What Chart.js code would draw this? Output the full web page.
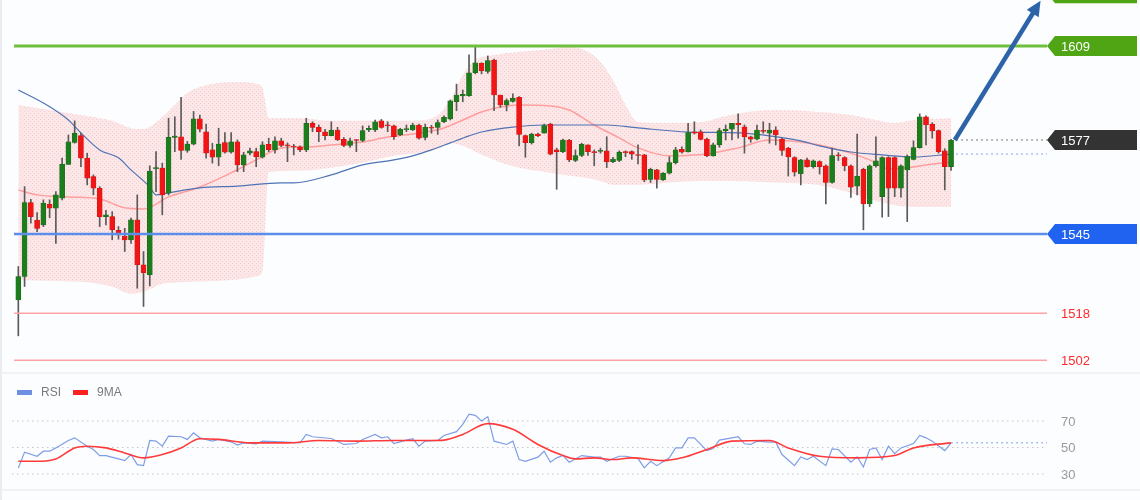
<!DOCTYPE html>
<html>
<head>
<meta charset="utf-8">
<title>Price chart</title>
<script src="https://cdn.jsdelivr.net/npm/chart.js@4.4.1/dist/chart.umd.min.js"></script>
<style>
  html, body { margin: 0; padding: 0; background: #fcfdfe; }
  #wrap { position: relative; width: 1140px; height: 500px; overflow: hidden; }
  canvas { position: absolute; left: 0; }
  #priceChart { top: 0; }
  #rsiChart { top: 375px; }
</style>
</head>
<body>
<div id="wrap">
  <canvas id="priceChart" width="1140" height="375"></canvas>
  <canvas id="rsiChart" width="1140" height="125"></canvas>
</div>
<script>
// =====================
// data
// =====================
const opens = [1522.5,1530.5,1555.7,1549.7,1548.1,1555.1,1553.8,1557.2,1568.7,1576.2,
1578.5,1570.8,1564.5,1560.6,1550.9,1550.9,1546.2,1544.3,1543.0,1549.8,
1534.5,1531.1,1567.2,1567.4,1558.9,1577.9,1578.1,1573.4,1575.6,1584.2,
1579.8,1573.6,1571.1,1576.1,1572.8,1576.4,1568.5,1572.5,1573.0,1571.1,
1575.5,1573.6,1576.7,1575.2,1574.8,1574.7,1573.6,1582.7,1581.3,1579.8,
1578.5,1580.4,1577.2,1575.1,1577.0,1576.8,1580.4,1580.4,1583.5,1582.1,
1581.8,1578.7,1580.5,1580.4,1582.1,1577.9,1581.3,1581.3,1583.2,1584.2,
1590.0,1592.0,1592.1,1599.9,1603.1,1600.3,1604.2,1592.3,1588.9,1590.1,
1591.5,1578.5,1576.1,1579.0,1579.3,1582.4,1573.6,1573.0,1577.0,1570.0,
1571.7,1575.3,1573.0,1573.1,1573.3,1569.6,1570.0,1573.0,1573.0,1571.9,
1571.9,1563.6,1566.8,1563.4,1565.7,1569.3,1573.8,1573.0,1579.8,1579.8,
1577.3,1571.6,1575.3,1580.2,1580.7,1582.7,1581.5,1578.1,1577.3,1580.2,
1579.3,1580.4,1577.3,1574.2,1571.0,1565.4,1570.2,1567.9,1569.6,1568.2,
1562.5,1571.9,1571.0,1568.2,1561.3,1567.0,1555.2,1568.2,1557.7,1571.0,
1571.0,1560.6,1566.8,1570.4,1574.4,1584.9,1582.4,1580.2,1573.3,1567.9];

const highs = [1533.9,1561.1,1556.8,1552.3,1556.6,1556.6,1559.4,1570.8,1578.7,1583.5,
1579.3,1572.5,1565.1,1561.1,1553.0,1552.6,1547.5,1546.9,1550.4,1558.3,
1539.0,1568.2,1573.0,1569.1,1584.4,1584.9,1591.5,1576.5,1586.7,1585.5,
1582.4,1575.9,1581.0,1579.5,1579.5,1577.0,1572.8,1574.2,1574.2,1576.4,
1577.6,1578.1,1577.6,1576.0,1575.5,1575.0,1584.4,1583.2,1582.1,1580.6,
1583.2,1581.3,1577.8,1577.6,1577.2,1581.8,1581.8,1583.8,1584.0,1583.2,
1582.1,1581.0,1582.1,1582.7,1582.4,1582.4,1582.0,1583.8,1585.2,1590.6,
1596.0,1594.0,1606.0,1608.8,1603.3,1605.6,1604.5,1592.3,1591.0,1592.7,
1591.8,1578.7,1579.3,1579.3,1582.4,1582.7,1574.2,1577.3,1577.2,1573.6,
1575.9,1575.3,1573.6,1574.2,1578.1,1571.1,1573.3,1573.3,1573.3,1575.3,
1572.1,1567.4,1567.0,1565.9,1571.3,1574.5,1574.7,1582.7,1583.2,1580.4,
1577.6,1575.9,1581.0,1582.1,1582.7,1585.9,1582.1,1578.3,1582.1,1583.2,
1582.7,1581.5,1577.6,1574.5,1571.3,1570.4,1570.8,1570.2,1569.9,1568.5,
1574.2,1572.7,1571.3,1568.5,1579.0,1567.4,1568.5,1578.1,1571.3,1571.3,
1571.3,1568.5,1571.9,1576.7,1585.9,1585.2,1582.9,1580.4,1574.0,1577.2];

const lows = [1510.3,1527.1,1548.7,1545.8,1547.5,1550.5,1541.8,1556.6,1568.7,1575.9,
1567.9,1561.7,1558.3,1547.5,1548.1,1543.0,1543.2,1539.0,1541.8,1526.5,
1520.3,1527.3,1559.4,1551.5,1558.3,1573.0,1570.4,1572.8,1575.3,1579.7,
1570.8,1569.1,1568.2,1572.5,1572.5,1566.2,1566.2,1571.9,1567.9,1570.8,
1573.0,1572.5,1574.7,1569.6,1571.9,1573.0,1573.0,1579.8,1576.4,1577.0,
1578.4,1576.8,1574.7,1574.5,1573.0,1576.4,1579.8,1579.8,1581.0,1579.8,
1577.2,1578.5,1579.8,1580.2,1577.3,1577.0,1579.3,1578.9,1582.9,1583.8,
1587.0,1590.0,1591.8,1599.5,1599.5,1599.7,1587.0,1588.1,1586.9,1589.9,
1575.0,1571.1,1575.6,1578.1,1579.3,1571.9,1560.2,1572.7,1569.6,1569.6,
1571.3,1571.7,1568.2,1572.5,1567.6,1569.3,1569.6,1571.3,1570.4,1568.8,
1562.8,1562.5,1560.6,1563.2,1565.4,1568.8,1572.5,1572.8,1579.0,1577.0,
1571.3,1571.5,1574.5,1577.0,1577.0,1577.6,1572.5,1576.2,1577.0,1579.3,
1575.9,1575.3,1571.7,1564.7,1564.7,1561.7,1567.7,1567.4,1565.4,1555.2,
1562.3,1570.0,1566.5,1557.4,1558.3,1546.4,1554.3,1567.7,1550.7,1550.9,
1557.7,1557.5,1549.2,1570.2,1574.2,1575.3,1577.6,1572.5,1560.0,1566.6];

const closes = [1530.5,1555.7,1550.9,1546.9,1555.5,1553.8,1558.3,1568.7,1576.4,1579.3,
1570.8,1564.0,1560.6,1550.9,1551.5,1546.4,1544.7,1543.0,1549.8,1534.5,
1531.8,1566.4,1567.6,1558.3,1577.9,1578.3,1573.4,1575.6,1584.2,1580.7,
1572.5,1571.1,1575.6,1572.8,1576.4,1568.5,1571.9,1573.3,1571.3,1575.3,
1573.6,1576.7,1575.1,1575.0,1574.6,1573.6,1582.7,1581.3,1579.8,1578.5,
1580.4,1577.0,1575.1,1576.7,1576.8,1580.2,1581.0,1583.2,1581.3,1581.8,
1578.1,1580.6,1580.8,1582.1,1577.6,1581.3,1581.0,1582.9,1584.7,1590.3,
1592.3,1592.5,1599.9,1603.3,1600.6,1604.0,1592.3,1588.9,1590.4,1591.2,
1578.9,1576.1,1579.0,1578.5,1581.9,1572.2,1573.0,1577.0,1570.2,1571.7,
1575.5,1573.0,1572.7,1573.3,1569.6,1570.5,1572.8,1572.7,1572.2,1571.7,
1563.4,1567.0,1563.6,1565.7,1569.3,1573.6,1572.8,1579.5,1579.3,1577.2,
1571.6,1575.3,1580.2,1580.7,1582.7,1582.1,1578.1,1577.3,1580.4,1579.9,
1580.4,1578.7,1573.4,1571.3,1566.0,1570.2,1567.9,1569.9,1567.9,1562.5,
1571.7,1571.6,1568.2,1560.9,1564.7,1555.2,1568.2,1569.9,1571.0,1560.6,
1560.6,1568.2,1571.3,1574.4,1584.9,1582.1,1580.1,1573.0,1567.9,1577.0];

// bollinger band, sampled at these candle indices
const bandIdx = [0,5,10,15,18,20,23,25,27,29,32,36,38,39,40,45,50,55,60,65,
  67,69,71,73,76,80,85,88,91,93,95,97,99,104,109,113,118,123,128,133,137,140,143,149];
const bandUpper = [1588.9,1587.2,1585.5,1583.5,1581.0,1580.7,1584.8,1588.9,1593.0,1595.0,
  1596.4,1596.7,1596.1,1594.7,1584.5,1584.5,1583.5,1583.5,1583.5,1583.8,
  1585.5,1590.6,1599.1,1604.2,1605.9,1607.0,1608.0,1608.7,1607.0,1603.5,
  1597.4,1588.9,1583.1,1582.8,1583.1,1585.2,1586.9,1587.2,1586.5,1585.5,
  1583.8,1582.8,1583.8,1584.5];
const bandLower = [1529.3,1529.0,1528.7,1527.0,1524.6,1525.3,1528.0,1528.4,1528.7,1528.8,
  1529.0,1529.7,1530.5,1532.1,1566.1,1566.5,1567.5,1569.2,1571.6,1572.9,
  1574.0,1576.0,1575.0,1573.0,1570.2,1567.5,1565.8,1564.8,1564.0,1563.0,
  1561.7,1561.7,1561.7,1562.5,1563.0,1563.0,1562.8,1562.3,1561.6,1559.0,
  1556.2,1554.8,1554.2,1554.2];

// short (red) and long (blue) moving averages
const redIdx = [0,3,8,13,17,20,24,29,34,38,42,46,50,55,59,63,68,71,74,77,80,85,88,92,96,99,
  104,110,115,120,125,130,136,139,142,145,149];
const redVal = [1560.0,1558.3,1557.6,1556.9,1553.9,1553.5,1557.6,1561.0,1565.8,1570.2,1574.3,
  1574.6,1575.3,1576.3,1578.0,1579.0,1581.1,1583.8,1586.5,1588.2,1588.9,1588.6,1587.2,1582.1,
  1577.7,1574.3,1571.6,1572.2,1574.3,1577.0,1576.3,1574.3,1570.2,1567.1,1567.5,1568.5,1569.5];
const blueIdx = [0,4,8,10,13,16,18,21,22,24,29,35,42,44,50,55,60,63,66,69,72,74,79,84,94,99,
  107,115,120,125,128,133,138,143,149];
const blueVal = [1594.0,1589.6,1583.8,1579.4,1573.6,1570.9,1566.8,1561.0,1558.3,1559.0,1560.7,
  1561.3,1562.4,1562.4,1565.1,1568.5,1570.2,1571.6,1573.6,1576.0,1578.4,1579.7,1581.4,1582.1,
  1582.1,1581.1,1579.7,1579.4,1578.4,1576.7,1575.0,1572.9,1571.9,1571.2,1572.2];

// horizontal levels
const targetLevel = 1627;
const resistLevel = 1609;
const supportLevel = 1545;
const lowLevels = [1518, 1502];
const lastPrice = 1577;
const arrowIdx = [149.6, 163.3];
const arrowPrice = [1577, 1624.4];

// RSI panel
const rsiIdx = [0,1,3,4,5,6,8,9,11,12,13,14,16,17,18,19,20,21,22,23,24,26,27,28,29,31,32,34,35,36,
  38,39,42,45,46,47,50,52,54,55,57,58,59,60,62,63,64,65,67,68,70,71,72,73,74,75,76,78,79,80,
  81,83,84,85,86,87,88,90,92,93,94,96,97,99,100,101,102,104,105,106,107,108,110,111,112,114,115,116,117,118,
  120,121,122,124,125,126,127,129,130,131,133,134,135,136,137,138,139,140,141,143,144,145,146,148,149];
const rsiVal = [34.6,46.5,43.4,47.2,47.2,49.7,55.3,57.3,51,48.5,43.9,43.9,41.4,40.1,44.7,37.1,36.3,55.3,54.8,51,
  58.6,58.1,56.1,61.1,57.3,54.8,56.1,54.3,51.8,53.5,52.8,54.8,54.3,53.5,59.9,58.1,56.8,52.3,53,56.1,
  59.9,57.3,58.1,53,55.6,56.6,51,54.8,55.3,59.1,62,67.5,75.1,74.3,70,73.3,54.8,52.3,54.8,40.9,
  39.6,42.7,47.2,38.9,42.2,44,38.9,43.9,42.7,42.7,39.6,43.4,43.4,41.6,34.6,39.6,36.3,42.2,49.7,49.7,
  57.3,57.3,47.7,49.2,55.6,57.3,58.1,52.8,52.3,54.8,54,54,44.7,36.3,42.9,40.9,43.4,36.3,49,48.5,
  38.9,42.9,35.3,48.5,49.7,40.9,51,45.4,49.7,53,59.1,57.3,54.8,47.7,53.5];
const maIdx = [0,3,6,9,11,14,17,20,23,26,29,32,37,43,48,54,60,66,68,71,75,79,83,87,89,92,95,98,
  103,106,110,114,120,123,128,134,140,143,149];
const maVal = [39.6,39.6,41.4,49.7,51,49.7,45.9,42.2,44.7,49.7,56.6,56.1,53.5,53.5,55.3,54.8,55.3,
  55.3,55.6,59.9,68,63.7,52.3,43.9,41.4,42.2,40.9,42.2,40.1,42.2,48.5,54.8,55.3,49.7,43.4,42.2,
  43.9,49.7,53.5];
const rsiTicks = [70, 50, 30];
const rsiLegend = ['RSI', '9MA'];

// =====================
// helpers
// =====================
const FONT = '"Liberation Sans", Arial, sans-serif';
const pts = (idx, val) => idx.map((x, k) => ({ x, y: val[k] }));
const X_MIN = -0.69, X_MAX = 164.33;

// dotted pink texture for the band
function bandPattern() {
  const c = document.createElement('canvas');
  c.width = 4; c.height = 4;
  const g = c.getContext('2d');
  g.fillStyle = 'rgba(255,125,125,0.17)';
  g.fillRect(0, 0, 4, 4);
  g.fillStyle = 'rgba(235,110,110,0.22)';
  g.fillRect(0, 3, 1, 1);
  g.fillRect(2, 1, 1, 1);
  return g.createPattern(c, 'repeat');
}

function tag(ctx, x0, x1, y, color, text) {
  const h = 20, n = 8;
  ctx.fillStyle = color;
  ctx.beginPath();
  ctx.moveTo(x0, y);
  ctx.lineTo(x0 + n, y - h / 2);
  ctx.lineTo(x1, y - h / 2);
  ctx.lineTo(x1, y + h / 2);
  ctx.lineTo(x0 + n, y + h / 2);
  ctx.closePath();
  ctx.fill();
  ctx.fillStyle = '#ffffff';
  ctx.font = '13px ' + FONT;
  ctx.textBaseline = 'middle';
  ctx.textAlign = 'left';
  ctx.fillText(text, x0 + 14, y + 1);
}

function hline(ctx, x0, x1, y, color, width, dash) {
  ctx.save();
  ctx.strokeStyle = color;
  ctx.lineWidth = width;
  ctx.setLineDash(dash || []);
  ctx.beginPath();
  ctx.moveTo(x0, y);
  ctx.lineTo(x1, y);
  ctx.stroke();
  ctx.restore();
}

// =====================
// price panel overlays
// =====================
const priceOverlay = {
  id: 'priceOverlay',
  afterDatasetsDraw(chart) {
    const { ctx, chartArea, scales } = chart;
    const xs = scales.x, ys = scales.y;
    const L = chartArea.left, R = chartArea.right;
    const lastX = xs.getPixelForValue(closes.length - 1) + 5;

    hline(ctx, L, R, ys.getPixelForValue(resistLevel), '#6dbf3c', 3);
    hline(ctx, L, R, ys.getPixelForValue(supportLevel), '#5b8ee9', 2.5);
    lowLevels.forEach(v => hline(ctx, L, R, ys.getPixelForValue(v), '#ffa3a3', 1.5));
    hline(ctx, lastX, R, ys.getPixelForValue(lastPrice), '#777777', 1, [2, 3]);
    hline(ctx, lastX, R, ys.getPixelForValue(blueVal[blueVal.length - 1]), '#a9c2ee', 1.5, [2, 3]);

    // arrow
    const ax0 = xs.getPixelForValue(arrowIdx[0]), ay0 = ys.getPixelForValue(arrowPrice[0]);
    const ax1 = xs.getPixelForValue(arrowIdx[1]), ay1 = ys.getPixelForValue(arrowPrice[1]);
    const ang = Math.atan2(ay1 - ay0, ax1 - ax0);
    const head = 15;
    ctx.save();
    ctx.strokeStyle = '#2d63a8';
    ctx.fillStyle = '#2d63a8';
    ctx.lineWidth = 4.5;
    ctx.beginPath();
    ctx.moveTo(ax0, ay0);
    ctx.lineTo(ax1 - Math.cos(ang) * head * 0.8, ay1 - Math.sin(ang) * head * 0.8);
    ctx.stroke();
    ctx.beginPath();
    ctx.moveTo(ax1, ay1);
    ctx.lineTo(ax1 - Math.cos(ang) * head + Math.sin(ang) * 7, ay1 - Math.sin(ang) * head - Math.cos(ang) * 7);
    ctx.lineTo(ax1 - Math.cos(ang) * head - Math.sin(ang) * 7, ay1 - Math.sin(ang) * head + Math.cos(ang) * 7);
    ctx.closePath();
    ctx.fill();
    ctx.restore();

    // right labels
    const tx1 = R + 90;
    tag(ctx, R, tx1, ys.getPixelForValue(targetLevel), '#50a514', String(targetLevel));
    tag(ctx, R, tx1, ys.getPixelForValue(resistLevel), '#50a514', String(resistLevel));
    tag(ctx, R, tx1, ys.getPixelForValue(lastPrice), '#333333', String(lastPrice));
    tag(ctx, R, tx1, ys.getPixelForValue(supportLevel), '#1f63f0', String(supportLevel));
    ctx.fillStyle = '#ff2b2b';
    ctx.font = '13px ' + FONT;
    ctx.textBaseline = 'middle';
    lowLevels.forEach(v => ctx.fillText(String(v), R + 14, ys.getPixelForValue(v) + 1));

    // frame
    hline(ctx, 0, chart.width, chart.height - 2, '#e4e8ee', 1);
    ctx.fillStyle = '#e9edf2';
    ctx.fillRect(0, 0, 2, chart.height);
  }
};

new Chart(document.getElementById('priceChart'), {
  type: 'bar',
  data: {
    datasets: [
      {
        type: 'line', data: pts(bandIdx, bandUpper), borderWidth: 0, pointRadius: 0,
        cubicInterpolationMode: 'monotone', fill: '+1',
        backgroundColor: bandPattern(), order: 10
      },
      {
        type: 'line', data: pts(bandIdx, bandLower), borderWidth: 0, pointRadius: 0,
        cubicInterpolationMode: 'monotone', fill: false, order: 10
      },
      {
        type: 'line', data: pts(redIdx, redVal), borderColor: '#ff9e9e', borderWidth: 1.5,
        pointRadius: 0, cubicInterpolationMode: 'monotone', fill: false, order: 5
      },
      {
        type: 'line', data: pts(blueIdx, blueVal), borderColor: '#4f73b5', borderWidth: 1.2,
        pointRadius: 0, cubicInterpolationMode: 'monotone', fill: false, order: 4
      },
      {
        label: 'wick', data: highs.map((h, i) => ({ x: i, y: [lows[i], h] })),
        backgroundColor: '#5a5a5a', barThickness: 1, grouped: false, order: 2
      },
      {
        label: 'body', data: opens.map((o, i) => ({ x: i, y: [o, closes[i]] })),
        backgroundColor: opens.map((o, i) => closes[i] >= o ? '#1c7d1c' : '#f01616'),
        borderColor: opens.map((o, i) => closes[i] >= o ? '#176617' : '#d01010'),
        borderWidth: 0.5, borderSkipped: false,
        barThickness: 5, minBarLength: 1, grouped: false, order: 1
      }
    ]
  },
  options: {
    responsive: false,
    animation: false,
    devicePixelRatio: 1,
    events: [],
    layout: { padding: { left: 14, right: 93, top: 0, bottom: 3 } },
    plugins: { legend: { display: false }, tooltip: { enabled: false } },
    scales: {
      x: { type: 'linear', min: X_MIN, max: X_MAX, offset: false, display: false },
      y: { type: 'linear', min: 1497.98, max: 1624.66, display: false }
    }
  },
  plugins: [priceOverlay]
});

// =====================
// RSI panel
// =====================
const rsiOverlay = {
  id: 'rsiOverlay',
  beforeDatasetsDraw(chart) {
    const { ctx, chartArea, scales } = chart;
    rsiTicks.forEach(v => {
      const y = scales.y.getPixelForValue(v);
      hline(ctx, chartArea.left - 2, chartArea.right - 2, y, '#c4c6ca', 1, [1.5, 3.5]);
      ctx.fillStyle = '#9a9a9a';
      ctx.font = '13px ' + FONT;
      ctx.textBaseline = 'middle';
      ctx.textAlign = 'left';
      ctx.fillText(String(v), chartArea.right + 14, y + 1);
    });
    const lastX = scales.x.getPixelForValue(rsiIdx[rsiIdx.length - 1]);
    hline(ctx, lastX, chartArea.right, scales.y.getPixelForValue(rsiVal[rsiVal.length - 1]),
      '#aabfee', 1.5, [2, 3]);

    // legend
    const colors = ['#6f8fe0', '#ff2020'];
    const xs = [17, 73];
    ctx.font = '12px ' + FONT;
    ctx.textBaseline = 'middle';
    rsiLegend.forEach((t, k) => {
      ctx.fillStyle = colors[k];
      ctx.fillRect(xs[k], 15, 15, 5);
      ctx.fillStyle = '#7a7a7a';
      ctx.fillText(t, xs[k] + 24, 18);
    });

    hline(ctx, 0, chart.width, 115, '#e4e8ee', 1);
    ctx.fillStyle = '#e9edf2';
    ctx.fillRect(0, 0, 2, chart.height);
  }
};

new Chart(document.getElementById('rsiChart'), {
  type: 'line',
  data: {
    datasets: [
      {
        label: 'RSI', data: pts(rsiIdx, rsiVal), borderColor: '#7f9de6', borderWidth: 1.2,
        pointRadius: 0, tension: 0, fill: false, order: 2
      },
      {
        label: '9MA', data: pts(maIdx, maVal), borderColor: '#ff3a3a', borderWidth: 1.6,
        pointRadius: 0, cubicInterpolationMode: 'monotone', fill: false, order: 1
      }
    ]
  },
  options: {
    responsive: false,
    animation: false,
    devicePixelRatio: 1,
    events: [],
    layout: { padding: { left: 14, right: 93, top: 30, bottom: 13 } },
    plugins: { legend: { display: false }, tooltip: { enabled: false } },
    scales: {
      x: { type: 'linear', min: X_MIN, max: X_MAX, display: false },
      y: { type: 'linear', min: 20.19, max: 82.08, display: false }
    }
  },
  plugins: [rsiOverlay]
});
</script>
</body>
</html>
